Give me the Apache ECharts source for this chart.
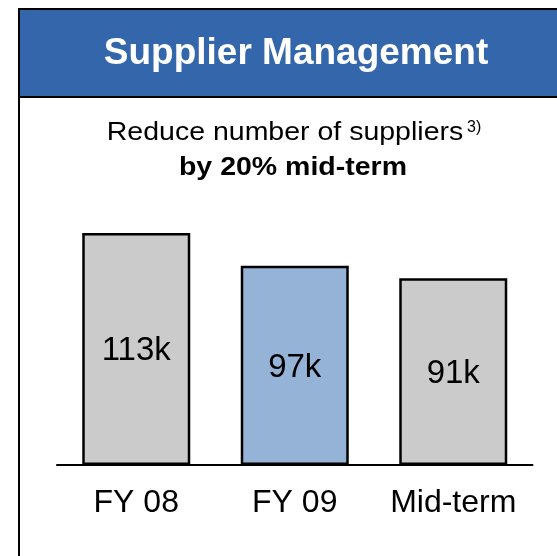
<!DOCTYPE html>
<html>
<head>
<meta charset="utf-8">
<style>
  html, body { margin: 0; padding: 0; background: #fff; }
  #main { width: 557px; height: 556px; }
</style>
<script src="https://cdn.jsdelivr.net/npm/echarts@6/dist/echarts.min.js"></script>
</head>
<body>
<div id="main"></div>
<script>
// supplier counts in thousands
const categories = ['FY 08', 'FY 09', 'Mid-term'];
const suppliers = [113, 97, 91];
const barColors = ['#CBCBCB', '#95B3D7', '#CBCBCB'];

const font = 'Arial, "Liberation Sans", Helvetica, sans-serif';

const chart = echarts.init(document.getElementById('main'));
chart.setOption({
  backgroundColor: '#fff',
  animation: false,
  grid: { left: 57, right: 24.5, top: 218.6, bottom: 91 },
  xAxis: {
    type: 'category',
    data: categories,
    axisTick: { show: false },
    axisLine: { lineStyle: { color: '#000', width: 2 } },
    axisLabel: {
      interval: 0,
      hideOverlap: false,
      color: '#000',
      fontSize: 32,
      fontFamily: font,
      margin: 22
    }
  },
  yAxis: {
    type: 'value',
    min: 0,
    max: 120,
    show: false,
    splitLine: { show: false }
  },
  series: [{
    type: 'bar',
    barWidth: 108,
    data: suppliers.map((v, i) => ({
      value: v,
      itemStyle: { color: barColors[i] }
    })),
    itemStyle: { borderColor: '#000', borderWidth: 2.5 },
    label: {
      show: true,
      position: 'inside',
      offset: [0, 2],
      color: '#000',
      fontSize: 33,
      fontFamily: font,
      formatter: p => p.value + 'k'
    }
  }],
  graphic: [
    {
      type: 'rect',
      shape: { x: 19, y: 9, width: 600, height: 600 },
      style: { fill: null, stroke: '#000', lineWidth: 2 },
      z: 10
    },
    {
      type: 'rect',
      shape: { x: 19, y: 9, width: 600, height: 88 },
      style: { fill: '#3366AA', stroke: '#000', lineWidth: 2 },
      z: 10
    },
    {
      type: 'text',
      x: 296, y: 54,
      z: 11,
      style: {
        text: 'Supplier Management',
        fill: '#fff',
        font: 'bold 37px ' + font,
        textAlign: 'center',
        textVerticalAlign: 'middle'
      }
    },
    {
      type: 'text',
      x: 285, y: 133,
      scaleX: 1.14,
      z: 11,
      style: {
        text: 'Reduce number of suppliers',
        fill: '#000',
        font: '25px ' + font,
        textAlign: 'center',
        textVerticalAlign: 'middle'
      }
    },
    {
      type: 'text',
      x: 467, y: 128,
      z: 11,
      style: {
        text: '3)',
        fill: '#000',
        font: '16px ' + font,
        textAlign: 'left',
        textVerticalAlign: 'middle'
      }
    },
    {
      type: 'text',
      x: 293, y: 168,
      scaleX: 1.14,
      z: 11,
      style: {
        text: 'by 20% mid-term',
        fill: '#000',
        font: 'bold 25px ' + font,
        textAlign: 'center',
        textVerticalAlign: 'middle'
      }
    }
  ]
});
</script>
</body>
</html>
